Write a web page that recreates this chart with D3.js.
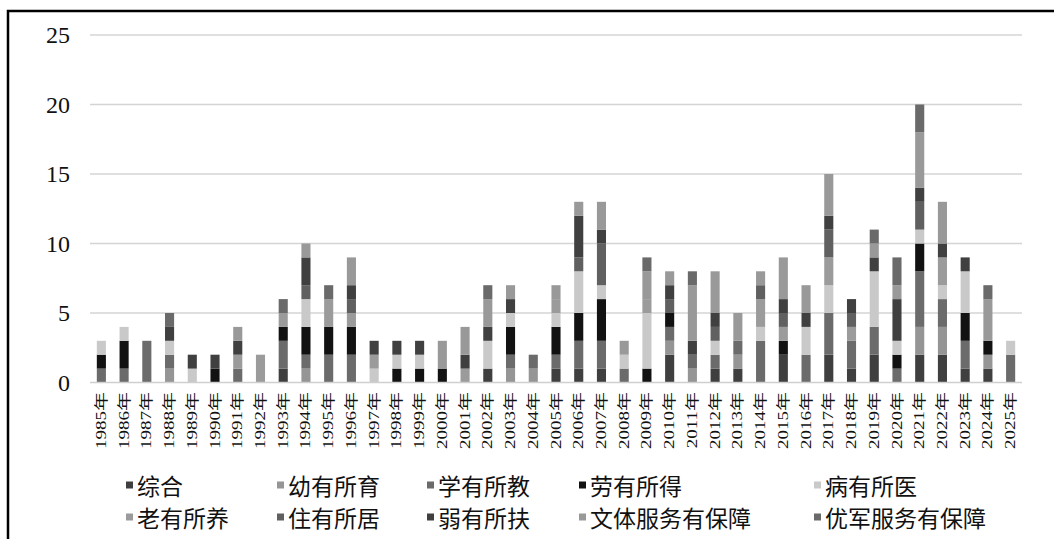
<!DOCTYPE html>
<html><head><meta charset="utf-8">
<script src="https://cdn.jsdelivr.net/npm/d3@7"></script>
<style>body{margin:0;background:#fff}svg{display:block}</style>
</head><body>
<svg id="c" width="1054" height="539"></svg>
<script>
const years = d3.range(1985, 2026).map(y => y + "年");
const seriesNames = ["综合","幼有所育","学有所教","劳有所得","病有所医","老有所养","住有所居","弱有所扶","文体服务有保障","优军服务有保障"];
const seriesColors = ["#3f3f3f","#959595","#6b6b6b","#121212","#c9c9c9","#9b9b9b","#606060","#404040","#999999","#6a6a6a"];
const zonghe  = [0,0,0,0,0,0,0,0,1,0, 0,0,0,0,0,0,0,1,0,0, 1,1,1,0,0,2,0,1,1,0, 2,0,2,1,2,0,2,2,1,1, 0];
const youyu   = [0,0,0,1,0,0,0,0,0,1, 0,0,0,0,0,0,0,0,1,1, 0,0,0,0,0,1,1,0,1,0, 0,0,0,0,0,0,2,2,0,1, 0];
const xuejiao = [1,1,3,1,0,0,1,0,2,1, 2,2,0,0,0,0,0,0,1,1, 1,2,2,1,0,1,1,1,1,3, 0,2,3,2,2,1,4,2,2,0, 2];
const laode   = [1,2,0,0,0,1,0,0,1,2, 2,2,0,1,1,1,0,0,2,0, 2,2,3,0,1,1,0,0,0,0, 1,0,0,0,0,1,2,0,2,1, 0];
const bingyi  = [1,1,0,1,1,0,0,0,0,2, 0,0,1,1,1,0,0,2,1,0, 1,3,1,1,4,0,0,1,0,1, 0,2,2,0,4,1,1,1,3,0, 1];
const laoyang = [0,0,0,0,0,0,1,2,1,0, 2,1,1,0,0,0,1,0,0,0, 1,0,0,0,1,0,0,0,0,2, 1,0,2,1,0,0,0,2,0,0, 0];
const zhuju   = [0,0,0,0,0,0,0,0,0,1, 0,1,0,0,0,0,0,0,0,0, 0,1,3,0,0,1,0,1,0,1, 1,0,2,1,0,0,2,0,0,0, 0];
const ruofu   = [0,0,0,1,1,1,1,0,0,2, 0,1,1,1,1,0,1,1,1,0, 0,3,1,0,0,1,1,1,0,0, 1,1,1,1,1,3,1,1,1,0, 0];
const wenti   = [0,0,0,0,0,0,1,0,0,1, 0,2,0,0,0,2,2,2,1,0, 1,1,2,1,2,1,4,3,2,1, 3,2,3,0,1,1,4,3,0,3, 0];
const youjun  = [0,0,0,1,0,0,0,0,1,0, 1,0,0,0,0,0,0,1,0,0, 0,0,0,0,1,0,1,0,0,0, 0,0,0,0,1,2,2,0,0,1, 0];
const yTicks = [0,5,10,15,20,25];

const seriesValues = [zonghe,youyu,xuejiao,laode,bingyi,laoyang,zhuju,ruofu,wenti,youjun];
const table = years.map((y,i) => { const o = {year:y}; seriesNames.forEach((s,k)=>o[s]=seriesValues[k][i]); return o; });
const stacked = d3.stack().keys(seriesNames)(table);

const svg = d3.select("#c");
const L = 90, R = 1022, T = 35, B = 382.5;
const x = d3.scaleBand().domain(years).range([L, R]).paddingInner(0.6).paddingOuter(0.3);
const y = d3.scaleLinear().domain([0,25]).range([B, T]);

// frame
svg.append("path").attr("d", `M8,539 L8,11 L1054,11`).attr("fill","none").attr("stroke","#000").attr("stroke-width",2.5);

// gridlines
svg.append("g").selectAll("line").data(yTicks.filter(d=>d>0)).join("line")
  .attr("x1", L).attr("x2", R).attr("y1", d=>y(d)).attr("y2", d=>y(d))
  .attr("stroke","#d4d4d4").attr("stroke-width",1.3);

// y labels
svg.append("g").selectAll("text").data(yTicks).join("text")
  .attr("x", 70).attr("y", d=>y(d)).attr("dy","0.35em").attr("text-anchor","end")
  .attr("font-family","'Liberation Serif', 'Times New Roman', serif").attr("font-size",24).attr("fill","#111")
  .text(d=>d);

// bars
svg.append("g").selectAll("g").data(stacked).join("g")
  .attr("fill", (d,i)=>seriesColors[i])
  .selectAll("rect").data(d=>d).join("rect")
  .attr("x", d=>x(d.data.year)).attr("width", x.bandwidth())
  .attr("y", d=>y(d[1])).attr("height", d=>y(d[0])-y(d[1]));

// baseline
svg.append("line").attr("x1",L).attr("x2",R).attr("y1",B).attr("y2",B).attr("stroke","#cfcfcf").attr("stroke-width",1.5);

// x labels
svg.append("g").selectAll("text").data(years).join("text")
  .attr("transform", d=>`translate(${x(d)+x.bandwidth()/2},392) rotate(-90) scale(1,0.72)`)
  .attr("text-anchor","end").attr("dominant-baseline","central")
  .attr("font-family","'Liberation Serif', 'Noto Sans CJK SC', serif").attr("font-size",19).attr("fill","#111")
  .text(d=>d);

// legend
const legX = [137, 288, 438, 590, 825];
const legY = [485, 517];
const legendItems = seriesNames.map((s,i)=>({name:s, color:seriesColors[i], col:i%5, row:Math.floor(i/5)}));
const lg = svg.append("g").selectAll("g").data(legendItems).join("g")
  .attr("transform", d=>`translate(${legX[d.col]},${legY[d.row]})`);
lg.append("rect").attr("x",-11).attr("y",-3.5).attr("width",7).attr("height",7).attr("fill",d=>d.color);
lg.append("text").attr("x",0).attr("y",0).attr("dominant-baseline","central")
  .attr("font-family","'Noto Sans CJK SC', sans-serif").attr("font-size",23).attr("fill","#111")
  .text(d=>d.name);
</script>
</body></html>
